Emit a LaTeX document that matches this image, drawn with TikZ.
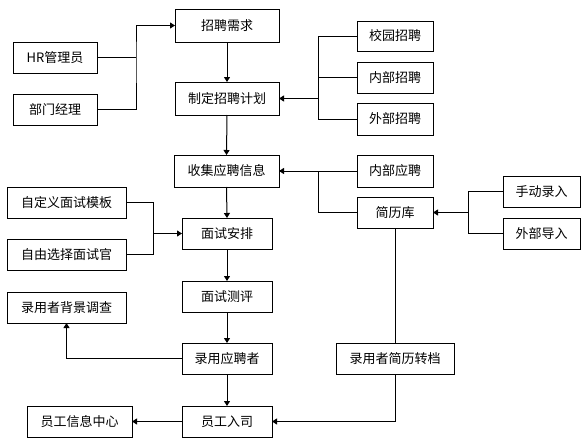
\documentclass[tikz,border=0pt]{standalone}
\usepackage{fontspec}
\setmainfont{Noto Sans CJK SC}
\usetikzlibrary{arrows.meta}
\begin{document}
\begin{tikzpicture}[x=1pt,y=-1pt,
  box/.style={draw,line width=1pt,inner sep=0pt,outer sep=0pt,minimum height=31pt,font=\fontsize{13pt}{14pt}\selectfont},
  ln/.style={line width=1pt},
  arr/.style={ln,-{Triangle[length=5pt,width=6pt]}}]
\fill[white] (0,0) rectangle (588,447);
\useasboundingbox (0,0) rectangle (588,447);
% nodes
\node[box,minimum width=104pt,minimum height=33pt] (req) at (227,25.5) {招聘需求};
\node[box,minimum width=84pt] (hr) at (55,57.5) {HR管理员};
\node[box,minimum width=84pt] (dept) at (55,109.5) {部门经理};
\node[box,minimum width=104pt,minimum height=33pt] (plan) at (227,98.5) {制定招聘计划};
\node[box,minimum width=76pt,minimum height=30pt] (campus) at (395,36) {校园招聘};
\node[box,minimum width=76pt] (inner) at (395,77.5) {内部招聘};
\node[box,minimum width=76pt,minimum height=32pt] (outer) at (395,119) {外部招聘};
\node[box,minimum width=105pt,minimum height=32pt] (collect) at (226.5,171) {收集应聘信息};
\node[box,minimum width=76pt,minimum height=32pt] (innerapp) at (395,171) {内部应聘};
\node[box,minimum width=76pt] (lib) at (395,212.5) {简历库};
\node[box,minimum width=77pt] (manual) at (541.5,191.5) {手动录入};
\node[box,minimum width=77pt] (extimp) at (541.5,233.5) {外部导入};
\node[box,minimum width=90pt] (arrange) at (227,233.5) {面试安排};
\node[box,minimum width=119pt] (tmpl) at (66.5,202.5) {自定义面试模板};
\node[box,minimum width=119pt] (choose) at (66.5,254.5) {自由选择面试官};
\node[box,minimum width=90pt] (eval) at (227,296.5) {面试测评};
\node[box,minimum width=90pt] (hire) at (227,358.5) {录用应聘者};
\node[box,minimum width=119pt] (bg) at (66.5,307.5) {录用者背景调查};
\node[box,minimum width=118pt] (transfer) at (395,358.5) {录用者简历转档};
\node[box,minimum width=90pt] (onboard) at (227,421.5) {员工入司};
\node[box,minimum width=105pt] (info) at (79.5,421.5) {员工信息中心};
% junctions
\coordinate (j1) at (136,57.5);
\coordinate (j2) at (318,98.5);
\coordinate (j3) at (318,171);
\coordinate (j4) at (468,212.5);
\coordinate (j5) at (153,233.5);
% connectors
\draw[ln] (hr.east) -- (j1);
\draw[arr] (dept.east) -| (j1) |- (req.west);
\draw[arr] (req.south) -- (plan.north);
\draw[ln] (campus.west) -| (j2 |- outer.west) -- (outer.west);
\draw[ln] (inner.west) -- (inner.west -| j2);
\draw[arr] (j2) -- (plan.east);
\draw[arr] (plan.south) -- (collect.north);
\draw[arr] (innerapp.west) -- (collect.east);
\draw[ln] (lib.west) -| (j3);
\draw[ln] (manual.west) -| (j4 |- extimp.west) -- (extimp.west);
\draw[arr] (j4) -- (lib.east);
\draw[arr] (collect.south) -- (arrange.north);
\draw[ln] (tmpl.east) -| (j5 |- choose.east) -- (choose.east);
\draw[arr] (j5) -- (arrange.west);
\draw[arr] (arrange.south) -- (eval.north);
\draw[arr] (eval.south) -- (hire.north);
\draw[arr] (hire.south) -- (onboard.north);
\draw[arr] (hire.west) -| (bg.south);
\draw[ln] (lib.south) -- (transfer.north);
\draw[arr] (transfer.south) |- (onboard.east);
\draw[arr] (onboard.west) -- (info.east);
\end{tikzpicture}
\end{document}
